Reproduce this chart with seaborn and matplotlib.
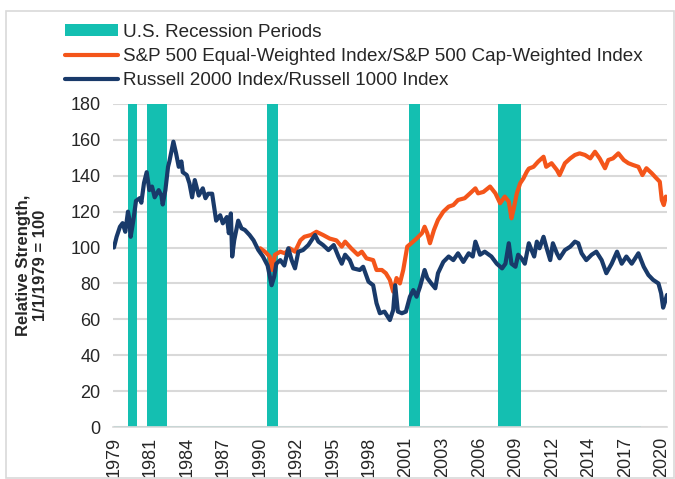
import numpy as np
import pandas as pd
import matplotlib
matplotlib.use("Agg")
import matplotlib.pyplot as plt
import seaborn as sns
from matplotlib.patches import Patch, Rectangle
from matplotlib.lines import Line2D

# ==============================
# Data
# ==============================
RUSSELL_YEARS = [
    1979.0, 1979.2, 1979.45, 1979.65, 1979.85, 1980.05, 1980.15, 1980.25, 1980.45, 1980.65,
    1980.95, 1981.05, 1981.25, 1981.45, 1981.65, 1981.85, 1982.05, 1982.35, 1982.55, 1982.65,
    1982.85, 1983.05, 1983.15, 1983.45, 1983.65, 1983.85, 1984.05, 1984.15, 1984.45, 1984.65,
    1984.85, 1985.05, 1985.35, 1985.65, 1985.85, 1986.05, 1986.35, 1986.55, 1986.65, 1986.95,
    1987.15, 1987.45, 1987.6, 1987.75, 1987.85, 1988.0, 1988.3, 1988.55, 1988.8, 1989.15,
    1989.45, 1989.8, 1990.15, 1990.5, 1990.8, 1991.0, 1991.15, 1991.45, 1991.75, 1992.05,
    1992.3, 1992.55, 1992.8, 1993.15, 1993.55, 1994.05, 1994.3, 1994.65, 1995.05, 1995.45,
    1995.8, 1996.05, 1996.3, 1996.65, 1996.9, 1997.4, 1997.65, 1998.05, 1998.4, 1998.65,
    1998.9, 1999.25, 1999.65, 1999.9, 2000.05, 2000.25, 2000.55, 2000.85, 2001.15, 2001.4,
    2001.65, 2001.9, 2002.25, 2002.45, 2002.75, 2003.05, 2003.25, 2003.65, 2004.05, 2004.4,
    2004.75, 2005.15, 2005.55, 2005.85, 2006.05, 2006.4, 2006.75, 2007.25, 2007.65, 2008.05,
    2008.3, 2008.55, 2008.75, 2009.05, 2009.25, 2009.5, 2009.75, 2010.05, 2010.25, 2010.45,
    2010.65, 2010.85, 2011.15, 2011.35, 2011.65, 2011.85, 2012.15, 2012.35, 2012.75, 2013.15,
    2013.5, 2013.75, 2014.0, 2014.35, 2014.75, 2015.1, 2015.5, 2015.85, 2016.25, 2016.65,
    2017.0, 2017.35, 2017.75, 2018.25, 2018.65, 2019.0, 2019.35, 2019.75, 2019.95, 2020.1,
    2020.25, 2020.39,
]
RUSSELL_VALUES = [
    100, 106, 111.6, 113.6, 108.8, 120, 116, 106, 115, 126,
    127.6, 125, 136, 142, 132, 134, 128, 132, 129, 124,
    132, 145, 148, 159, 152.5, 145, 148, 142, 140.4, 135.8,
    128, 137.6, 129, 133, 127.5, 130, 130, 120, 115, 118,
    113.5, 117, 108, 119, 95, 104, 115, 110.7, 109.8, 107,
    104, 98.7, 95, 90, 79, 84, 91, 93, 90, 99.6,
    93, 88.4, 97.7, 98.6, 101.4, 107, 103.3, 101.4, 98.6, 101.4,
    95, 91, 96, 93, 88.4, 87.5, 89.3, 81, 79, 69,
    63.4, 64.3, 59.6, 65.2, 79, 64.3, 63.4, 64.3, 72.6, 76.3,
    72.6, 78, 87.5, 83, 80, 77.3, 85.7, 92, 95, 93,
    96.8, 92, 96.8, 95, 103.3, 96, 97.7, 95, 91, 88.4,
    91, 102.4, 91, 89.3, 96, 94, 91, 102.4, 98.6, 95,
    103.3, 99.6, 106, 100.5, 93, 102.4, 96.8, 94, 98.6, 100.5,
    103.3, 102.4, 96.8, 93, 96, 97.7, 93, 85.7, 91, 97.7,
    91, 95, 91, 96.8, 89.3, 84.7, 82, 80, 74.5, 66.5,
    70, 73.6,
]

SP_YEARS = [
    1989.95, 1990.3, 1990.65, 1990.85, 1991.05, 1991.45, 1991.8, 1992.15, 1992.55, 1992.95,
    1993.25, 1993.75, 1994.15, 1994.65, 1995.15, 1995.65, 1996.05, 1996.3, 1996.75, 1997.25,
    1997.55, 1997.9, 1998.4, 1998.65, 1999.05, 1999.35, 1999.65, 1999.9, 2000.15, 2000.4,
    2000.65, 2000.95, 2001.25, 2001.65, 2002.05, 2002.25, 2002.45, 2002.65, 2002.95, 2003.25,
    2003.65, 2004.05, 2004.4, 2004.75, 2005.25, 2005.65, 2006.05, 2006.25, 2006.65, 2007.15,
    2007.55, 2007.9, 2008.25, 2008.55, 2008.75, 2008.9, 2009.15, 2009.4, 2009.65, 2009.9,
    2010.05, 2010.4, 2010.75, 2011.15, 2011.35, 2011.75, 2012.15, 2012.35, 2012.75, 2013.15,
    2013.5, 2013.85, 2014.25, 2014.65, 2015.0, 2015.35, 2015.75, 2016.0, 2016.35, 2016.75,
    2017.15, 2017.5, 2017.85, 2018.25, 2018.55, 2018.85, 2019.25, 2019.6, 2019.85, 2020.0,
    2020.15, 2020.3, 2020.39,
]
SP_VALUES = [
    99.6, 97.7, 95, 87.5, 96, 97.7, 96.8, 99.6, 97.7, 104,
    106, 107, 108.8, 107, 105, 104, 100.5, 103.3, 99.6, 96,
    97.7, 94, 93, 87.5, 87.5, 85.7, 82, 75.4, 83, 80,
    87.5, 100.5, 102.4, 105, 108, 111.6, 108, 102.4, 109.8, 115.4,
    120, 122.8, 123.7, 126.5, 127.5, 130.2, 133, 130.2, 131, 134,
    130.2, 124.7, 128.4, 125.6, 116.3, 121, 130.2, 135.8, 138.6, 142.3,
    144, 145, 147.9, 150.6, 145, 147, 143.2, 140.4, 147, 149.7,
    151.6, 152.5, 151.6, 149.7, 153.4, 149.7, 144.2, 148.8, 149.7, 152.5,
    148.8, 147, 146, 145, 140.4, 144.2, 141.4, 138.6, 136.7, 126.5,
    123.7, 128.4, 127.5,
]

RECESSION_START = [1980.05, 1981.5, 1990.45, 2001.1, 2007.75]
RECESSION_END = [1980.7, 1982.95, 1991.3, 2001.9, 2009.45]
RECESSION_SERIES_END = 2018.45

TICK_LABELS = ["1979", "1981", "1984", "1987", "1990", "1992", "1995", "1998",
               "2001", "2003", "2006", "2009", "2012", "2014", "2017", "2020"]
TICK_FIRST, TICK_LAST = 1979.0, 2020.0

LABEL_REC = "U.S. Recession Periods"
LABEL_SP = "S&P 500 Equal-Weighted Index/S&P 500 Cap-Weighted Index"
LABEL_RUS = "Russell 2000 Index/Russell 1000 Index"

# ==============================
# Style
# ==============================
TEAL = "#14bfb1"
ORANGE = "#f4551a"
NAVY = "#193a6a"
GRID = "#d9d9d9"
NARROW = ["Liberation Sans Narrow", "Liberation Sans", "DejaVu Sans"]

sns.set_style("white")
plt.rcParams["font.family"] = ["Liberation Sans", "DejaVu Sans"]

fig = plt.figure(figsize=(6.75, 4.79), dpi=100)
ax = fig.add_axes([113 / 675, 1 - 427 / 479, (667 - 113) / 675, (427 - 104) / 479])

# recession bands
for start, end in zip(RECESSION_START, RECESSION_END):
    ax.axvspan(start, end, color=TEAL, lw=0, zorder=1)
ax.hlines(0, RUSSELL_YEARS[0], RECESSION_SERIES_END, color=TEAL, lw=1.2, alpha=0.6, zorder=2)

rus = pd.DataFrame({"year": RUSSELL_YEARS, "value": RUSSELL_VALUES})
sp = pd.DataFrame({"year": SP_YEARS, "value": SP_VALUES})
sns.lineplot(data=sp, x="year", y="value", color=ORANGE, lw=3.0, ax=ax, zorder=3)
sns.lineplot(data=rus, x="year", y="value", color=NAVY, lw=3.0, ax=ax, zorder=4)

# axes
ax.set_xlim(1978.93, 2020.39)
ax.set_ylim(0, 180)
ax.set_yticks(np.arange(0, 181, 20))
ax.set_xticks(np.linspace(TICK_FIRST, TICK_LAST, len(TICK_LABELS)))
ax.set_xticklabels(TICK_LABELS, rotation=90, fontsize=13)
ax.set_yticklabels([str(v) for v in range(0, 181, 20)], family=NARROW, fontsize=13)
ax.grid(axis="y", color=GRID, lw=1.5)
ax.set_axisbelow(True)
for side in ["top", "right", "left"]:
    ax.spines[side].set_visible(False)
ax.spines["bottom"].set_color(GRID)
ax.spines["bottom"].set_linewidth(1.2)
ax.tick_params(axis="x", length=4, width=1.2, color=GRID, pad=3)
ax.tick_params(axis="y", length=0, pad=9)
ax.set_xlabel("")
ax.set_ylabel("Relative Strength,\n1/1/1979 = 100", fontsize=12, fontweight="bold",
              linespacing=1.15, labelpad=16)

# legend
handles = [
    Patch(facecolor=TEAL, edgecolor="none"),
    Line2D([], [], color=ORANGE, lw=3.0),
    Line2D([], [], color=NAVY, lw=3.0),
]
fig.legend(handles, [LABEL_REC, LABEL_SP, LABEL_RUS], loc="upper left",
           bbox_to_anchor=(65 / 675, 1 - 24 / 479), frameon=False, fontsize=13.6,
           handlelength=2.8, handleheight=0.6, handletextpad=0.26, labelspacing=0.38,
           borderpad=0, borderaxespad=0)

# outer chart border
fig.add_artist(Rectangle((6 / 675, 0.002), 1 - 7 / 675, 1 - 11 / 479 - 0.002,
                         transform=fig.transFigure, fill=False, edgecolor=GRID, lw=1.2))

fig.savefig("out.png", dpi=100)
